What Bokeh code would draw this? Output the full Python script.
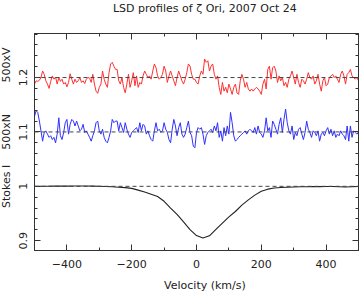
import numpy as np
from bokeh.plotting import figure
from bokeh.layouts import row, column
from bokeh.models import Range1d, LinearAxis, FixedTicker, Span
from bokeh.core.properties import value
from bokeh.embed import file_html
from bokeh.resources import INLINE

# ---------------- data ----------------
velocity = list(range(-500, 505, 5))   # km/s, 201 points

stokes_v500 = [
    -0.012, -0.006, -0.007, -0.005, 0.000, 0.012, 0.006, -0.006, -0.012, -0.020,
    -0.007, 0.003, -0.003, 0.001, -0.012, 0.000, -0.007, -0.003, -0.012, -0.009,
    -0.017, -0.009, 0.007, -0.003, -0.012, -0.003, -0.009, -0.006, 0.000, -0.009,
    -0.006, -0.011, -0.003, 0.000, -0.001, -0.009, 0.006, -0.012, -0.025, -0.029,
    -0.018, -0.012, 0.012, -0.003, -0.012, -0.018, 0.009, 0.025, 0.028, 0.021,
    0.015,
    0.015, -0.006, -0.012, 0.000, -0.018, -0.028, -0.012, 0.006, -0.018, -0.006,
    0.009, -0.015, 0.003, -0.018, -0.009, -0.012, 0.003, 0.012, 0.006, 0.000,
    0.003, -0.003, 0.012, 0.025, 0.018, 0.003, -0.003, 0.000, 0.006, 0.021,
    0.012, -0.009, 0.003, 0.012, 0.003, -0.006, -0.015, 0.000, 0.012, 0.003,
    -0.006, -0.012, -0.003, 0.009, 0.025, 0.021, 0.006, -0.003,
    -0.003, -0.009, -0.012, 0.003, 0.012, 0.006, 0.034, 0.028, 0.031, 0.012,
    0.021, 0.025, 0.006, -0.003, 0.003, -0.018, -0.031, -0.009, -0.025, -0.018,
    -0.028, -0.012, -0.021, -0.031, -0.018, -0.012, -0.028, -0.031, -0.006, 0.006,
    -0.003, -0.018, -0.009, -0.021, -0.025, -0.021, -0.025, -0.021, -0.018, -0.021,
    -0.025, -0.031, -0.012, -0.003, -0.021, 0.015, 0.021, -0.003,
    0.018, 0.021, 0.012, -0.009, 0.003, -0.006, 0.000, -0.015, -0.009, -0.018,
    -0.003, 0.003, 0.012, 0.000, -0.012, 0.006, -0.009, -0.018, -0.003, -0.006,
    -0.012, -0.003, 0.009, 0.000, -0.003, 0.003, -0.012, -0.006, 0.006, -0.012,
    -0.025, -0.006, 0.000, -0.015, -0.012, 0.000, 0.003, 0.006, 0.000, 0.003,
    -0.003, -0.009, 0.006, 0.012, 0.003, -0.012, 0.006, 0.009, 0.015, 0.003,
    0.000, -0.003, 0.000, -0.006,
]

null_n500 = [
    0.029, 0.039, 0.036, 0.020, 0.002, -0.017, -0.001, 0.002, -0.004, -0.010,
    -0.007, -0.014, -0.010, -0.020, -0.004, 0.026, -0.007, -0.014, -0.001, 0.017,
    0.023, -0.004, 0.014, 0.023, 0.020, 0.011, 0.020, 0.011, 0.002, 0.005,
    0.014, -0.001, 0.002, -0.004, -0.010, -0.017, -0.007, 0.002, 0.017, 0.020,
    0.002, -0.004, 0.005, -0.010, -0.017, -0.020, -0.010, 0.002, 0.023, 0.017,
    0.020,
    0.020, 0.002, 0.017, 0.008, -0.001, 0.017, 0.005, -0.004, -0.010, -0.001,
    0.002, 0.005, 0.008, -0.001, 0.017, 0.002, 0.014, 0.011, -0.004, 0.002,
    -0.007, -0.014, -0.017, 0.002, 0.017, 0.002, 0.005, -0.001, 0.002, 0.017,
    0.005, -0.001, -0.014, -0.020, 0.005, 0.023, 0.011, -0.007, 0.008, 0.017,
    -0.004, -0.010, -0.004, 0.008, 0.020, -0.001, -0.007, -0.026,
    -0.029, -0.001, 0.008, 0.005, 0.008, -0.004, -0.023, -0.007, -0.001, 0.002,
    0.005, -0.001, 0.011, 0.002, 0.017, -0.010, 0.002, -0.017, 0.008, -0.007,
    0.011, -0.004, 0.036, 0.017, -0.007, -0.017, -0.014, -0.010, -0.007, -0.004,
    -0.001, 0.002, -0.004, 0.002, 0.005, 0.002, -0.001, 0.008, -0.004, 0.011,
    -0.001, -0.004, -0.010, 0.002, 0.026, 0.002, 0.008, -0.010,
    0.020, 0.014, 0.005, -0.004, 0.014, 0.026, -0.001, 0.023, 0.042, 0.017,
    0.002, -0.004, 0.011, -0.014, -0.001, -0.007, 0.005, 0.008, -0.004, -0.014,
    -0.001, 0.020, 0.005, -0.001, -0.010, 0.002, -0.001, -0.007, 0.002, -0.017,
    -0.004, -0.001, -0.007, 0.002, 0.008, -0.004, 0.005, -0.007, 0.002, -0.010,
    -0.004, -0.007, 0.002, -0.004, -0.007, -0.014, 0.011, -0.017, 0.011, -0.010,
    0.002, -0.001, -0.004, -0.001,
]

velocity_I = list(range(-500, 520, 20))
stokes_I = [
    1.0000, 1.0001, 1.0002, 1.0003, 1.0004, 1.0004, 1.0005, 1.0006, 1.0005, 1.0003,
    1.0000, 0.9996, 0.9991, 0.9984, 0.9976, 0.9962, 0.9930, 0.9895, 0.9855, 0.9812,
    0.9725, 0.9600, 0.9485, 0.9345, 0.9205, 0.9095, 0.9050, 0.9090, 0.9210, 0.9325,
    0.9438, 0.9537, 0.9655, 0.9750, 0.9838, 0.9908, 0.9948, 0.9968, 0.9978, 0.9984,
    0.9988, 0.9991, 0.9993, 0.9994, 0.9995, 0.9996, 0.9996, 0.9992, 0.9988, 0.9993,
    0.9996,
]

v_shift = 1.2
n_shift = 1.1
x_major = [-400, -200, 0, 200, 400]
x_minor = [-500, -300, -100, 100, 300, 500]
y_major = [0.9, 1.0, 1.1, 1.2]
y_minor = [0.88, 0.92, 0.94, 0.96, 0.98, 1.02, 1.04, 1.06, 1.08, 1.12, 1.14,
           1.16, 1.18, 1.22, 1.24, 1.26, 1.28]
y_tick_labels = {0.9: "0.9", 1: "1", 1.1: "1.1", 1.2: "1.2"}
x_tick_labels = {-400: "\u2212400", -200: "\u2212200", 0: "0", 200: "200", 400: "400"}
panel_names = ["500xV", "500xN", "Stokes I"]
panel_name_y = [1.223, 1.1, 1.0]
title_text = "LSD profiles of \u03b6 Ori, 2007 Oct 24"
x_title = "Velocity (km/s)"

FONT = "DejaVu Sans"
FS = "11px"
TXT = "#222222"
AX = "#333333"

yr = Range1d(0.882, 1.281)

# ---------------- main plot ----------------
p = figure(width=346, height=259, x_range=Range1d(-500, 500), y_range=yr,
           output_backend="svg", toolbar_location=None,
           min_border_left=20, min_border_right=2, min_border_top=17,
           min_border_bottom=25, background_fill_color="white",
           border_fill_color="white")
p.grid.visible = False
p.outline_line_color = AX

def ticks_style(ax):
    ax.axis_line_color = AX
    ax.major_tick_line_color = AX
    ax.minor_tick_line_color = AX
    ax.major_tick_in = 6
    ax.major_tick_out = 0
    ax.minor_tick_in = 3
    ax.minor_tick_out = 0
    ax.major_label_text_font = FONT
    ax.major_label_text_font_size = FS
    ax.major_label_text_color = TXT

bx = p.xaxis[0]
bx.ticker = FixedTicker(ticks=x_major, minor_ticks=x_minor)
bx.major_label_overrides = x_tick_labels
bx.major_label_standoff = 9
ticks_style(bx)

ly = p.yaxis[0]
ly.ticker = FixedTicker(ticks=y_major, minor_ticks=y_minor)
ly.major_label_overrides = y_tick_labels
ly.major_label_orientation = "vertical"
ly.major_label_standoff = 7
ticks_style(ly)

# label-free frame ticks on top and right (major as long, minor as short ticks)
def bare_axis(ticks, length, side):
    ax = LinearAxis(ticker=FixedTicker(ticks=[], minor_ticks=ticks))
    ax.axis_line_color = AX
    ax.minor_tick_line_color = AX
    ax.minor_tick_in = length
    ax.minor_tick_out = 0
    ax.major_tick_in = 0
    ax.major_tick_out = 0
    ax.major_label_standoff = 0
    p.add_layout(ax, side)

bare_axis(x_major, 6, "above")
bare_axis(x_minor, 3, "above")
bare_axis(y_major, 6, "right")
bare_axis(y_minor, 3, "right")

for lvl in (v_shift, n_shift, 1.0):
    p.add_layout(Span(location=lvl, dimension="width", line_color="#444444",
                      line_width=1, line_dash="4 3"))

vel = np.array(velocity)
p.line(vel, np.array(stokes_v500) + v_shift, line_color="#ff3030", line_width=1)
p.line(vel, np.array(null_n500) + n_shift, line_color="#3030ff", line_width=1)
p.line(velocity_I, stokes_I, line_color="#222222", line_width=1.1)

# ---------------- text strips (title, x label, panel names) ----------------
def strip(w, h):
    f = figure(width=w, height=h, x_range=Range1d(0, w), y_range=Range1d(0, h),
               output_backend="svg", toolbar_location=None,
               x_axis_location=None, y_axis_location=None,
               min_border=0, background_fill_color="white",
               border_fill_color="white")
    f.grid.visible = False
    f.outline_line_color = None
    return f

def put_text(f, xs, ys, texts, angle=0.0):
    f.text(x=xs, y=ys, text=texts, angle=angle, text_align="center",
           text_baseline="middle", text_font=value(FONT),
           text_font_size=value(FS), text_color=TXT)

top = strip(346, 16)
put_text(top, [182], [8], [title_text])

bottom = strip(346, 16)
put_text(bottom, [182], [6], [x_title])

names = figure(width=14, height=291, x_range=Range1d(0, 14), y_range=yr,
               output_backend="svg", toolbar_location=None,
               x_axis_location=None, y_axis_location=None,
               min_border_left=0, min_border_right=0, min_border_top=33,
               min_border_bottom=41, background_fill_color="white",
               border_fill_color="white")
names.grid.visible = False
names.outline_line_color = None
put_text(names, [6, 6, 6], panel_name_y, panel_names, np.pi / 2)

layout = row(names, column(top, p, bottom))
open("out.html", "w").write(file_html(layout, INLINE))
